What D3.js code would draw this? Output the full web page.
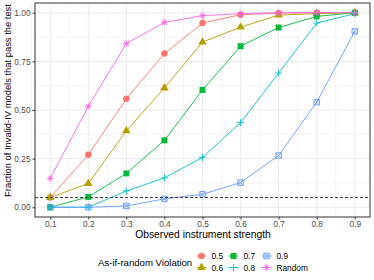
<!DOCTYPE html>
<html>
<head>
<meta charset="utf-8">
<script src="https://cdn.jsdelivr.net/npm/d3@7"></script>
<style>
  body { margin: 0; background: #fff; }
  svg { display: block; font-family: "Liberation Sans", Arial, sans-serif; }
</style>
</head>
<body>
<div id="chart"></div>
<script>
// observed instrument strength
const strengths = [0.1, 0.2, 0.3, 0.4, 0.5, 0.6, 0.7, 0.8, 0.9];

const seriesNames = ["0.5", "0.6", "0.7", "0.8", "0.9", "Random"];
const seriesColors = ["#F8766D", "#B79F00", "#00BA38", "#00BFC4", "#619CFF", "#F564E3"];
const seriesShapes = ["circle", "triangle", "square", "plus", "squarecross", "asterisk"];

const v05 = [0.05, 0.27, 0.558, 0.79, 0.947, 0.99, 0.998, 1.0, 1.0];
const v06 = [0.05, 0.122, 0.393, 0.613, 0.849, 0.926, 0.988, 0.995, 1.0];
const v07 = [0.0, 0.053, 0.174, 0.344, 0.603, 0.828, 0.924, 0.981, 1.0];
const v08 = [0.0, 0.0, 0.084, 0.151, 0.256, 0.435, 0.69, 0.947, 0.995];
const v09 = [0.0, 0.0, 0.007, 0.043, 0.067, 0.127, 0.266, 0.54, 0.904];
const vRandom = [0.148, 0.519, 0.842, 0.95, 0.985, 0.995, 1.0, 1.0, 1.0];
const seriesValues = [v05, v06, v07, v08, v09, vRandom];

const xTicks = [0.1, 0.2, 0.3, 0.4, 0.5, 0.6, 0.7, 0.8, 0.9];
const yTicks = [0, 0.25, 0.5, 0.75, 1];
const threshold = 0.05;

const W = 374, H = 280;
const panel = {l: 35, r: 370, t: 3, b: 217};

const svg = d3.select("#chart").append("svg")
  .attr("width", W).attr("height", H);

const x = d3.scaleLinear().domain([0.1 - 0.04, 0.9 + 0.04]).range([panel.l, panel.r]);
const y = d3.scaleLinear().domain([-0.05, 1.05]).range([panel.b, panel.t]);

// grid
const g = svg.append("g");
const xMinor = d3.range(0.05, 0.96, 0.1);
const yMinor = [0.125, 0.375, 0.625, 0.875];
g.selectAll(".xmin").data(xMinor).join("line")
  .attr("x1", d => x(d)).attr("x2", d => x(d))
  .attr("y1", panel.t).attr("y2", panel.b)
  .attr("stroke", "#ebebeb").attr("stroke-width", 0.5);
g.selectAll(".ymin").data(yMinor).join("line")
  .attr("y1", d => y(d)).attr("y2", d => y(d))
  .attr("x1", panel.l).attr("x2", panel.r)
  .attr("stroke", "#ebebeb").attr("stroke-width", 0.5);
g.selectAll(".xmaj").data(xTicks).join("line")
  .attr("x1", d => x(d)).attr("x2", d => x(d))
  .attr("y1", panel.t).attr("y2", panel.b)
  .attr("stroke", "#ebebeb").attr("stroke-width", 1);
g.selectAll(".ymaj").data(yTicks).join("line")
  .attr("y1", d => y(d)).attr("y2", d => y(d))
  .attr("x1", panel.l).attr("x2", panel.r)
  .attr("stroke", "#ebebeb").attr("stroke-width", 1);

// symbols
function shapePath(type, s) {
  if (type == "circle") return d3.symbol(d3.symbolCircle, s * s * 0.8)();
  if (type == "square") return d3.symbol(d3.symbolSquare, s * s * 0.85)();
  if (type == "triangle") return d3.symbol(d3.symbolTriangle, s * s * 0.75)();
  const h = s * 0.55;
  if (type == "plus") return `M${-h},0L${h},0M0,${-h}L0,${h}`;
  if (type == "squarecross") {
    const q = s * 0.42;
    return `M${-q},${-q}L${q},${-q}L${q},${q}L${-q},${q}Z M${-q},${-q}L${q},${q}M${-q},${q}L${q},${-q}`;
  }
  if (type == "asterisk") {
    const a = s * 0.5, d = a * 0.707;
    return `M${-a},0L${a},0M0,${-a}L0,${a}M${-d},${-d}L${d},${d}M${-d},${d}L${d},${-d}`;
  }
}
function isFilled(type) {
  return type == "circle" || type == "square" || type == "triangle";
}

// series
const line = d3.line().x((d, i) => x(strengths[i])).y(d => y(d));
const plot = svg.append("g");
seriesValues.forEach((vals, k) => {
  plot.append("path").datum(vals)
    .attr("d", line)
    .attr("fill", "none")
    .attr("stroke", seriesColors[k])
    .attr("stroke-width", 0.9);
});
seriesValues.forEach((vals, k) => {
  const type = seriesShapes[k];
  plot.selectAll(".pt" + k).data(vals).join("path")
    .attr("transform", (d, i) => `translate(${x(strengths[i])},${y(d)})`)
    .attr("d", shapePath(type, 6.5))
    .attr("fill", isFilled(type) ? seriesColors[k] : "none")
    .attr("stroke", seriesColors[k])
    .attr("stroke-width", isFilled(type) ? 0 : 0.9);
});

// threshold line
svg.append("line")
  .attr("x1", panel.l).attr("x2", panel.r)
  .attr("y1", y(threshold)).attr("y2", y(threshold))
  .attr("stroke", "#3a3a3a").attr("stroke-width", 1)
  .attr("stroke-dasharray", "3,2");

// border
svg.append("rect")
  .attr("x", panel.l).attr("y", panel.t)
  .attr("width", panel.r - panel.l).attr("height", panel.b - panel.t)
  .attr("fill", "none").attr("stroke", "#333333").attr("stroke-width", 1);

// axes
const xAxis = svg.append("g").attr("transform", `translate(0,${panel.b})`)
  .call(d3.axisBottom(x).tickValues(xTicks).tickSize(2.5).tickPadding(2).tickFormat(d3.format(".1f")));
const yAxis = svg.append("g").attr("transform", `translate(${panel.l},0)`)
  .call(d3.axisLeft(y).tickValues(yTicks).tickSize(2.5).tickPadding(2).tickFormat(d3.format(".2f")));
[xAxis, yAxis].forEach(a => {
  a.select(".domain").remove();
  a.selectAll(".tick line").attr("stroke", "#333333");
  a.selectAll(".tick text").attr("fill", "#4d4d4d")
    .style("font-size", "8.3px").style("font-family", "Liberation Sans, Arial, sans-serif");
});

svg.append("text")
  .attr("x", 203).attr("y", 238)
  .attr("text-anchor", "middle")
  .style("font-size", "10.3px")
  .text("Observed instrument strength");

svg.append("text")
  .attr("transform", `translate(11,100.5) rotate(-90)`)
  .attr("text-anchor", "middle")
  .style("font-size", "9.4px")
  .text("Fraction of Invalid-IV models that pass the test");

// legend
const legend = svg.append("g");
legend.append("text")
  .attr("x", 98).attr("y", 265.5)
  .style("font-size", "9.6px")
  .text("As-if-random Violation");

const legendCols = [201.5, 233.5, 266.5];
const legendRows = [256, 267.5];
seriesNames.forEach((name, k) => {
  const col = Math.floor(k / 2), row = k % 2;
  const lx = legendCols[col], ly = legendRows[row];
  const type = seriesShapes[k];
  legend.append("line")
    .attr("x1", lx - 5).attr("x2", lx + 5).attr("y1", ly).attr("y2", ly)
    .attr("stroke", seriesColors[k]).attr("stroke-width", 0.9);
  legend.append("path")
    .attr("transform", `translate(${lx},${ly})`)
    .attr("d", shapePath(type, 6.5))
    .attr("fill", isFilled(type) ? seriesColors[k] : "none")
    .attr("stroke", seriesColors[k])
    .attr("stroke-width", isFilled(type) ? 0 : 0.9);
  legend.append("text")
    .attr("x", lx + 10).attr("y", ly + 3)
    .style("font-size", "8.3px")
    .attr("fill", "#000")
    .text(name);
});
</script>
</body>
</html>
